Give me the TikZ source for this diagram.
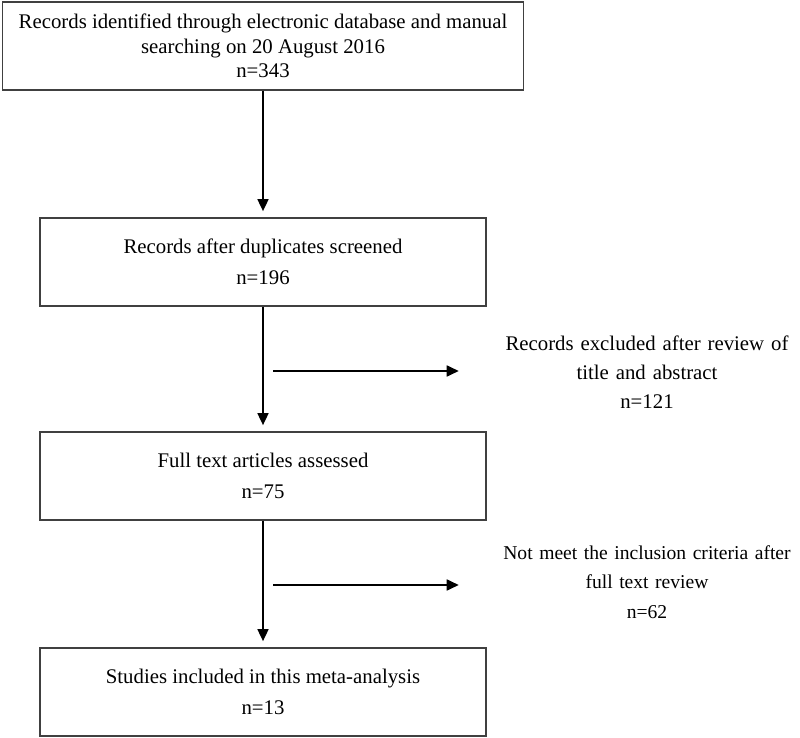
\documentclass[tikz,border=0pt]{standalone}
\usepackage{fontspec}
\setmainfont{Liberation Serif}
\usetikzlibrary{arrows.meta}
\tikzstyle{box} = [rectangle, draw=black!75, line width=1.3pt, text centered,
                   align=center, inner sep=0pt, minimum height=66pt,
                   font=\fontsize{15.6pt}{18.5pt}\selectfont]
\tikzstyle{widebox} = [box, minimum width=390.75pt]
\tikzstyle{flowbox} = [box, minimum width=335pt]
\tikzstyle{sidenote} = [rectangle, text centered, align=center, inner sep=0pt,
                        text width=282pt, font=\fontsize{15.6pt}{18.5pt}\selectfont]
\tikzstyle{arrow} = [line width=1.3pt, -{Triangle[length=9pt, width=8.25pt]},
                     shorten >=4.5pt]

\begin{document}
\begin{tikzpicture}[x=0.75pt, y=-0.75pt]
\useasboundingbox (0,0) rectangle (800,738);

\node (records) [widebox] at (263,46) {Records identified through electronic database and manual\\searching on 20 August 2016\\n=343};
\node (screened) [flowbox] at (263,262) {Records after duplicates screened\\[4.75pt]n=196};
\node (fulltext) [flowbox] at (263,476) {Full text articles assessed\\[4.75pt]n=75};
\node (included) [flowbox] at (263,692) {Studies included in this meta-analysis\\[4.75pt]n=13};

\node (excluded) [sidenote] at (647,372) {Records excluded after review of\\[3.25pt]title and abstract\\[3.25pt]n=121};
\node (notmeet) [sidenote, font=\fontsize{14.7pt}{18.5pt}\selectfont] at (647,582) {Not meet the inclusion criteria after\\[3.75pt]full text review\\[3.75pt]n=62};

\coordinate (split1) at (273,371);
\coordinate (split2) at (273,585);

\draw [arrow] (records) -- (screened);
\draw [arrow] (screened) -- (fulltext);
\draw [arrow] (fulltext) -- (included);

% exclusions
\draw [arrow, shorten >=0pt] (split1) -- (split1 -| excluded.west);
\draw [arrow, shorten >=0pt] (split2) -- (split2 -| notmeet.west);

\end{tikzpicture}
\end{document}
